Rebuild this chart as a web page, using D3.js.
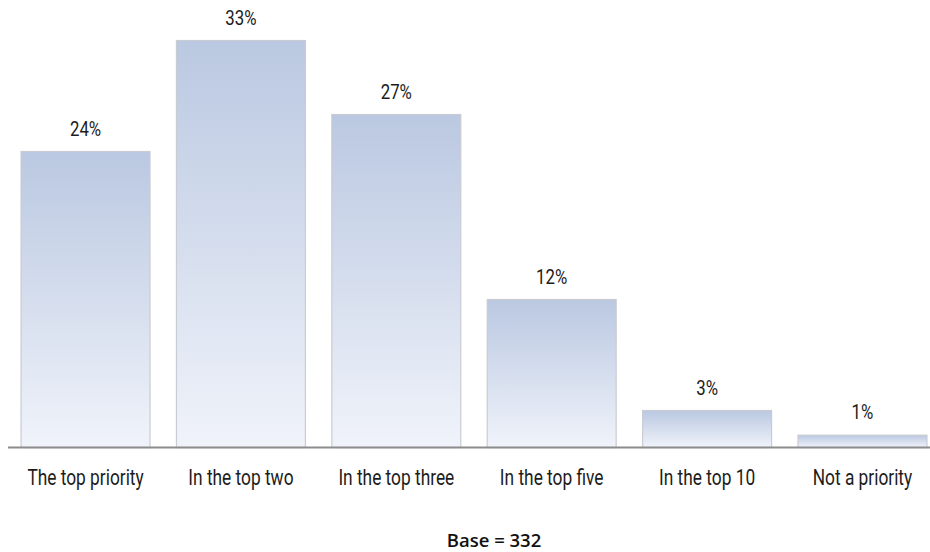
<!DOCTYPE html>
<html>
<head>
<meta charset="utf-8">
<script src="https://cdn.jsdelivr.net/npm/d3@7"></script>
<style>
  html, body { margin: 0; padding: 0; background: #fff; }
  svg { display: block; }
  .val, .cat { font-family: Roboto, "DejaVu Sans Condensed", sans-serif; font-weight: 400; fill: #1c1c1c; }
  .base { font-family: "Open Sans", "DejaVu Sans", sans-serif; font-weight: 600; fill: #111; }
</style>
</head>
<body>
<svg id="chart" width="930" height="552"></svg>
<script>
// Priority ranking shares
const categories = ["The top priority", "In the top two", "In the top three", "In the top five", "In the top 10", "Not a priority"];
const values = [24, 33, 27, 12, 3, 1];
const baseNote = "Base = 332";

const W = 930, H = 552;
const baseY = 447.5;
const svg = d3.select("#chart");

const x = d3.scaleBand()
  .domain(categories)
  .range([8, 940])
  .paddingInner(0.17)
  .paddingOuter(0.084);

const y = d3.scaleLinear()
  .domain([0, 33])
  .range([baseY, 40.5]);

const defs = svg.append("defs");
const grad = defs.append("linearGradient")
  .attr("id", "barGrad")
  .attr("x1", 0).attr("y1", 0).attr("x2", 0).attr("y2", 1);
grad.append("stop").attr("offset", "0%").attr("stop-color", "#bac8e1");
grad.append("stop").attr("offset", "100%").attr("stop-color", "#f0f3fa");

// Bars
svg.append("g").selectAll("rect")
  .data(values)
  .join("rect")
  .attr("x", (d, i) => x(categories[i]))
  .attr("y", d => y(d))
  .attr("width", x.bandwidth())
  .attr("height", d => y(0) - y(d))
  .attr("fill", "url(#barGrad)")
  .attr("stroke", "#c9ccd2")
  .attr("stroke-width", 1.2);

// Baseline
svg.append("line")
  .attr("x1", 8).attr("x2", W)
  .attr("y1", y(0)).attr("y2", y(0))
  .attr("stroke", "#8c8c8c")
  .attr("stroke-width", 2.2);

// Value labels (condensed)
svg.append("g").selectAll("g")
  .data(values)
  .join("g")
  .attr("transform", (d, i) => `translate(${x(categories[i]) + x.bandwidth() / 2},${y(d) - 16})`)
  .append("text")
  .attr("class", "val")
  .attr("text-anchor", "middle")
  .attr("font-size", 21)
  .attr("transform", "scale(0.8,1)")
  .text(d => d + "%");

// Category axis labels
const xAxis = d3.axisBottom(x).tickSize(0).tickPadding(0);
const gx = svg.append("g")
  .attr("transform", `translate(0,${y(0)})`)
  .call(xAxis);
gx.select(".domain").remove();
gx.selectAll("text")
  .attr("class", "cat")
  .attr("font-size", 22.5)
  .attr("y", 37.5)
  .attr("dy", 0)
  .attr("transform", "scale(0.77,1)");

// Base note
svg.append("text")
  .attr("class", "base")
  .attr("x", 494)
  .attr("y", 547)
  .attr("text-anchor", "middle")
  .attr("font-size", 18.5)
  .text(baseNote);
</script>
</body>
</html>
